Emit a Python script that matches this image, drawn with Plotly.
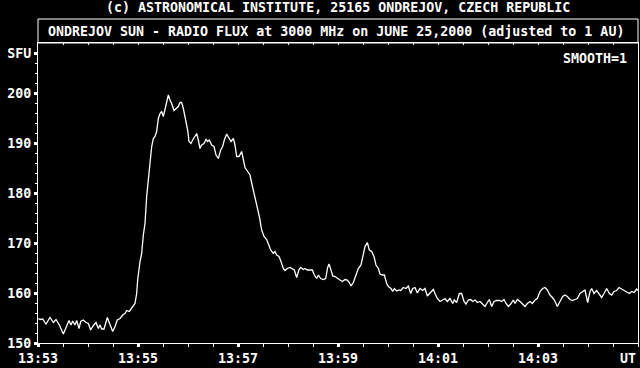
import pandas as pd
import plotly.graph_objects as go

# seconds after 13:53:00 UT, 25 June 2000
seconds = [
    0.4, 2.4, 5.6, 9.6, 14.4, 18.4, 21.6, 25.6, 30.4, 34.4,
    37.2, 39.6, 41.6, 44.4, 46.4, 49.2, 51.2, 54.4, 57.6, 60.4,
    63.2, 66.4, 69.6, 72.4, 74.4, 76.4, 79.2, 83.2, 86.4, 89.6,
    92.4, 95.2, 98.4, 101.6, 104.4, 106.4, 109.6, 112.4, 116.4, 118.4,
    119.6,
    122.4, 124.4, 126.4, 128.4, 130.4, 132.4, 134.4, 136.4, 138.4, 140.4,
    142.4, 144.4, 146.4, 148.4, 150.4, 152.4, 154.4, 156.4, 158.4, 160.4,
    163.2, 166.4, 168.4, 170.4, 172.4, 174.4, 177.2, 179.6, 181.2, 183.6,
    185.6, 188.4, 190.4, 192.4, 194.4, 196.4, 199.2, 201.6, 203.6, 205.6,
    208.4, 211.2, 213.6, 216.4, 219.2, 221.6, 223.6, 226.4, 229.2, 231.6,
    234.4, 236.4, 238.4, 241.2, 244.4, 246.4, 248.4, 252.4, 254.4,
    256.4, 258.4, 262.4, 265.6, 268.4, 271.2, 274.4, 276.4, 279.2, 282.4,
    284.4, 286.4, 289.2, 291.6, 294.4, 296.4, 299.2, 302.4, 305.2, 307.6,
    310.4, 313.2, 315.2, 318.4, 320.4, 323.2, 326.4, 329.2, 331.6, 334.4,
    336.4, 339.2, 342.4, 345.2, 347.6, 349.2, 351.6, 353.6, 356.4, 359.2,
    362.4, 365.2, 368.4, 371.2, 373.6, 375.6, 378.4, 381.6, 384.4, 387.6,
    390.4, 392.4, 395.2, 397.6, 400.4, 403.2, 405.6, 408.4, 410.4, 413.2,
    415.6, 418.4, 420.4, 423.6, 425.6, 427.6, 430.4, 433.2,
    435.2, 438.4, 441.6, 444.4, 447.2, 449.6, 452.4, 455.2, 458.4, 461.6,
    464.4, 467.2, 470.4, 474.4, 476.4, 479.2, 482.4, 485.6, 488.4, 491.2,
    494.4, 497.6, 499.6, 502.4, 505.6, 508.4, 511.2, 513.6, 516.4, 519.2,
    521.6, 524.4, 527.2, 530.4, 533.2, 536.4, 539.2, 541.6, 544.4, 547.2,
    550.4, 553.6, 556.4, 559.2, 561.6, 564.4, 567.2, 570.4, 572.4, 575.2,
    578.4, 581.2, 584.4, 587.2, 590.4, 593.2, 596.4, 599.2, 602.4, 605.6,
    608.4, 611.2, 614.4, 617.2, 619.6, 623.2, 626.4, 629.6, 632.4, 635.2,
    638.4, 641.6, 644.4, 647.2, 650.4, 653.2, 656.4, 659.6, 662.4, 664.4,
    667.2, 670.4, 673.6, 676.4, 679.2, 682.4, 685.6, 688.4, 691.2, 694.4,
    697.2, 700.4, 703.2, 706.4, 709.6, 712.4, 715.2, 718.4, 720.0,
]

# radio flux, SFU
flux = [
    154.9, 154.7, 154.8, 153.8, 155.1, 154.1, 154.7, 153.6, 151.8, 153.3,
    154.5, 153.6, 154.4, 153.6, 154.5, 152.9, 154.3, 154.6, 154.1, 153.9,
    152.6, 153.5, 154.1, 152.9, 153.6, 152.8, 152.8, 155.1, 153.6, 152.3,
    153.3, 154.6, 154.9, 155.6, 155.9, 156.5, 156.3, 156.9, 157.9, 159.9,
    162.6,
    166.3, 167.9, 171.6, 173.9, 179.3, 182.6, 186.9, 189.3, 190.9, 191.3,
    192.3, 194.9, 195.9, 196.3, 195.3, 196.6, 198.3, 199.6, 198.6, 197.9,
    196.5, 196.9, 197.3, 198.1, 198.1, 196.9, 194.6, 192.6, 190.3, 189.9,
    190.6, 191.3, 191.9, 190.6, 188.9, 189.6, 189.9, 190.7, 190.3, 190.6,
    189.6, 189.3, 187.6, 186.9, 188.6, 189.3, 190.6, 191.8, 190.9, 190.3,
    190.9, 189.6, 187.3, 187.3, 188.3, 186.6, 185.1, 184.1, 183.6,
    182.0, 180.6, 177.9, 175.3, 172.6, 171.3, 170.7, 169.9, 168.6, 167.9,
    168.3, 167.6, 167.3, 166.3, 164.9, 164.5, 164.9, 165.1, 164.9, 164.6,
    163.1, 164.7, 165.1, 164.7, 164.9, 164.6, 164.6, 164.6, 163.6, 162.9,
    163.6, 162.9, 162.7, 162.9, 165.1, 165.8, 164.6, 163.4, 163.3, 162.9,
    162.6, 162.3, 162.7, 162.6, 162.1, 161.4, 162.1, 163.6, 164.9, 165.6,
    167.6, 169.3, 170.1, 168.6, 168.3, 167.3, 165.6, 164.9, 163.8, 163.6,
    163.6, 161.9, 161.3, 160.9, 160.3, 160.9, 160.4, 160.6,
    160.5, 161.1, 160.9, 161.4, 159.9, 160.9, 161.1, 160.0, 160.9, 160.5,
    160.9, 159.4, 160.0, 160.7, 159.9, 158.9, 158.3, 158.7, 158.9, 158.3,
    158.9, 157.9, 158.6, 158.1, 159.9, 159.9, 158.3, 157.8, 158.6, 158.7,
    158.3, 158.6, 158.1, 158.3, 157.9, 157.3, 158.1, 158.7, 157.3, 158.3,
    158.5, 158.5, 158.3, 158.7, 157.9, 157.3, 157.8, 158.6, 157.9, 158.7,
    158.3, 157.8, 157.3, 157.9, 158.3, 157.9, 158.6, 158.9, 160.3, 160.9,
    161.1, 160.6, 159.6, 159.1, 158.6, 157.3, 158.3, 159.3, 159.6, 159.3,
    158.7, 158.5, 158.7, 158.9, 159.9, 160.3, 160.6, 158.1, 160.3, 160.9,
    159.9, 160.5, 159.6, 159.1, 159.9, 160.9, 159.9, 159.6, 160.3, 160.5,
    161.1, 160.8, 160.5, 160.3, 159.9, 160.3, 160.1, 160.8, 160.5,
]

y_tick_values = [150, 160, 170, 180, 190, 200, 208]
y_tick_labels = ["150", "160", "170", "180", "190", "200", "SFU"]
x_tick_labels = ["13:53", "13:55", "13:57", "13:59", "14:01", "14:03", ""]

title_text = "(c) ASTRONOMICAL INSTITUTE, 25165 ONDREJOV, CZECH REPUBLIC"
subtitle_text = "ONDREJOV SUN - RADIO FLUX at 3000 MHz on JUNE 25,2000 (adjusted to 1 AU)"
smooth_text = "SMOOTH=1"
unit_text = "UT"

base = pd.Timestamp("2000-06-25 13:53:00")
times = base + pd.to_timedelta(seconds, unit="s")
x_start = base
x_end = base + pd.Timedelta(minutes=12)
major_x = list(pd.date_range(x_start, x_end, freq="2min"))
minor_x = list(pd.date_range(x_start, x_end, freq="30s"))
minor_y = list(range(150, 210, 2))

FONT = dict(family="DejaVu Sans Mono", size=13.3, color="white", weight="bold")
W = "white"

fig = go.Figure()
fig.add_trace(go.Scatter(x=times, y=flux, mode="lines",
                         line=dict(color=W, width=1.3), showlegend=False,
                         hoverinfo="skip"))
fig.add_trace(go.Scatter(x=[times[0]], y=[flux[0]], xaxis="x2", mode="lines",
                         line=dict(width=0), showlegend=False, hoverinfo="skip"))

fig.update_layout(
    width=640, height=368,
    margin=dict(l=38, r=2, t=43, b=25, pad=0),
    paper_bgcolor="black", plot_bgcolor="black",
    font=FONT,
    xaxis=dict(
        type="date", range=[x_start, x_end],
        showgrid=False, zeroline=False,
        showline=True, linecolor=W, linewidth=1, mirror=True,
        tickmode="array", tickvals=major_x, ticktext=x_tick_labels,
        ticks="outside", ticklen=3, tickwidth=3, tickcolor=W,
        tickfont=FONT,
        minor=dict(tickmode="array", tickvals=minor_x, ticks="outside",
                   ticklen=3, tickwidth=1, tickcolor=W, showgrid=False),
    ),
    xaxis2=dict(
        type="date", range=[x_start, x_end], overlaying="x", side="top",
        anchor="y", showgrid=False, zeroline=False, showline=False,
        tickmode="array", tickvals=minor_x, ticktext=[""] * len(minor_x),
        ticks="inside", ticklen=2, tickwidth=1, tickcolor=W,
    ),
    yaxis=dict(
        range=[150, 210],
        showgrid=False, zeroline=False,
        showline=True, linecolor=W, linewidth=1, mirror=True,
        tickmode="array", tickvals=y_tick_values, ticktext=y_tick_labels,
        ticks="outside", ticklen=3, tickwidth=3, tickcolor=W,
        tickfont=FONT,
        minor=dict(tickmode="array", tickvals=minor_y, ticks="outside",
                   ticklen=2, tickwidth=1, tickcolor=W, showgrid=False),
    ),
    shapes=[dict(type="rect", xref="paper", yref="paper",
                 x0=0, x1=1, y0=1, y1=1 + 24 / 300,
                 line=dict(color=W, width=1))],
    annotations=[
        dict(text=title_text, xref="paper", yref="paper", x=0.5, y=1 + 35 / 300,
             xanchor="center", yanchor="middle", showarrow=False, font=FONT),
        dict(text=subtitle_text, xref="paper", yref="paper", x=0.497, y=1 + 11.5 / 300,
             xanchor="center", yanchor="middle", showarrow=False, font=FONT),
        dict(text=smooth_text, xref="paper", yref="paper", x=591 / 600, y=(343 - 58.5) / 300,
             xanchor="right", yanchor="middle", showarrow=False, font=FONT),
        dict(text=unit_text, xref="paper", yref="paper", x=1.0, y=-16 / 300,
             xanchor="right", yanchor="middle", showarrow=False, font=FONT),
    ],
)

fig.write_html("out.html")
